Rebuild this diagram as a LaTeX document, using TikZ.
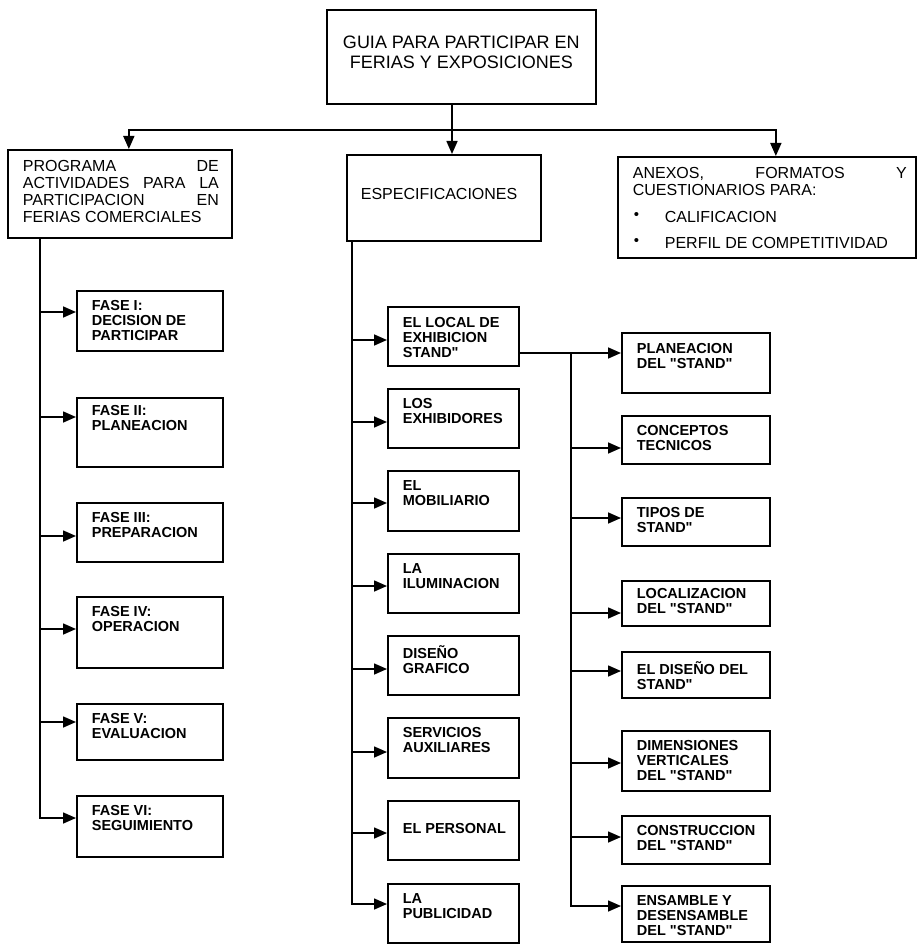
\documentclass[tikz,border=0pt]{standalone}
\usepackage{fontspec}
\setmainfont{Liberation Sans}[Ligatures=TeXOff]
\usetikzlibrary{arrows.meta}
\tikzset{
    caja/.style={
        draw, rectangle, line width=1.7pt, inner sep=0pt,
        anchor=north west,
        font=\bfseries\fontsize{14.5}{15}\selectfont,
    },
    linea/.style={line width=1.6pt, line join=miter},
    flecha/.style={linea, -{Triangle[length=13pt,width=11pt]}},
}
\newcommand{\grande}{\mdseries\fontsize{16}{17}\selectfont}
\newcommand{\vineta}{\makebox[32pt][l]{\hspace{1pt}\raisebox{3pt}{\fontsize{15}{15}\selectfont •}}}
% #1 margen superior, #2 nombre, #3 x, #4 y, #5 ancho, #6 alto, #7 texto
\newcommand{\caja}[7][10pt]{%
    \node[caja] (#2) at (#3,#4)
        {\parbox[b][#6pt][t]{#5pt}{\vspace*{#1}\raggedright
        \leftskip=15pt\rightskip=0pt plus 1fil\relax #7\par}};
}
\begin{document}
\begin{tikzpicture}[x=1pt,y=-1pt]
\fill[white] (0,0) rectangle (918,944);
\useasboundingbox (0,0) rectangle (918,944);
% nivel superior
\caja[26pt]{guia}{326}{9}{269}{94}{\centering\mdseries\fontsize{18}{20}\selectfont
    GUIA PARA PARTICIPAR EN\\FERIAS Y EXPOSICIONES}
\caja[10.5pt]{prog}{7}{149}{224}{88}{\grande\rightskip=13pt plus 1fil\relax
    PROGRAMA\hfill DE\\ACTIVIDADES\hfill PARA\hfill LA\\
    PARTICIPACION\hfill EN\\FERIAS COMERCIALES}
\caja[33pt]{espec}{346}{154}{194}{86}{\grande\leftskip=14pt ESPECIFICACIONES}
\caja[10.5pt]{anexos}{617}{156}{298}{101}{\grande\rightskip=9pt plus 1fil\relax
    ANEXOS,\hfill FORMATOS\hfill Y\\CUESTIONARIOS PARA:\\[10pt]
    \vineta CALIFICACION\\[9pt]\vineta PERFIL DE COMPETITIVIDAD}
% fases
\caja{f1}{76}{290}{146}{60}{FASE I:\\DECISION DE\\PARTICIPAR}
\caja[8pt]{f2}{76}{397}{146}{69}{FASE II:\\PLANEACION}
\caja{f3}{76}{502}{146}{59}{FASE III:\\PREPARACION}
\caja{f4}{76}{596}{146}{71}{FASE IV:\\OPERACION}
\caja{f5}{76}{703}{146}{56}{FASE V:\\EVALUACION}
\caja{f6}{76}{795}{146}{61}{FASE VI:\\SEGUIMIENTO}
% especificaciones
\caja[11pt]{local}{387}{306}{131}{59}{EL LOCAL DE\\EXHIBICION\\STAND"}
\caja{exhib}{387}{388}{131}{59}{LOS\\EXHIBIDORES}
\caja{mobil}{387}{470}{131}{60}{EL\\MOBILIARIO}
\caja{ilum}{387}{553}{131}{59}{LA\\ILUMINACION}
\caja{diseno}{387}{635}{131}{59}{DISEÑO\\GRAFICO}
\caja{serv}{387}{717}{131}{60}{SERVICIOS\\AUXILIARES}
\caja[23pt]{pers}{387}{800}{131}{59}{EL PERSONAL}
\caja{publi}{387}{883}{131}{59}{LA\\PUBLICIDAD}
% stand
\caja[11pt]{plan}{621}{332}{148}{60}{PLANEACION\\DEL "STAND"}
\caja{conc}{621}{415}{148}{48}{CONCEPTOS\\TECNICOS}
\caja{tipos}{621}{497}{148}{48}{TIPOS DE\\STAND"}
\caja[8pt]{loca}{621}{580}{148}{45}{LOCALIZACION\\DEL "STAND"}
\caja{disst}{621}{651}{148}{46}{EL DISEÑO DEL\\STAND"}
\caja{dimen}{621}{730}{148}{60}{DIMENSIONES\\VERTICALES\\DEL "STAND"}
\caja{constr}{621}{815}{148}{48}{CONSTRUCCION\\DEL "STAND"}
\caja{ensam}{621}{885}{148}{56}{ENSAMBLE Y\\DESENSAMBLE\\DEL "STAND"}
% conectores del primer nivel
\coordinate (j) at (452,130);
\draw[linea] (guia.south -| j) -- (j);
\draw[flecha] (j) -| ([xshift=9pt]prog.north);
\draw[flecha] (j) -- (j |- espec.north);
\draw[flecha] (j) -| ([xshift=9pt]anexos.north);
% troncos
\coordinate (ti) at ([xshift=33pt]prog.south west);
\foreach \nombre/\fy in {f1/312,f2/417,f3/536,f4/629,f5/722,f6/818}{
    \coordinate (p) at (0,\fy);
    \draw[flecha] (ti) |- (\nombre.west |- p);
}
\coordinate (tm) at ([xshift=6pt]espec.south west);
\foreach \nombre/\fy in {local/340,exhib/422,mobil/503,ilum/586,
    diseno/669,serv/752,pers/833,publi/904}{
    \coordinate (p) at (0,\fy);
    \draw[flecha] (tm) |- (\nombre.west |- p);
}
\coordinate (p) at (0,353);
\draw[flecha] (local.east |- p) -- (plan.west |- p);
\coordinate (td) at (571,353);
\foreach \nombre/\fy in {conc/448,tipos/518,loca/613,disst/671,
    dimen/763,constr/837,ensam/906}{
    \coordinate (p) at (0,\fy);
    \draw[flecha] (td) |- (\nombre.west |- p);
}
\end{tikzpicture}
\end{document}
